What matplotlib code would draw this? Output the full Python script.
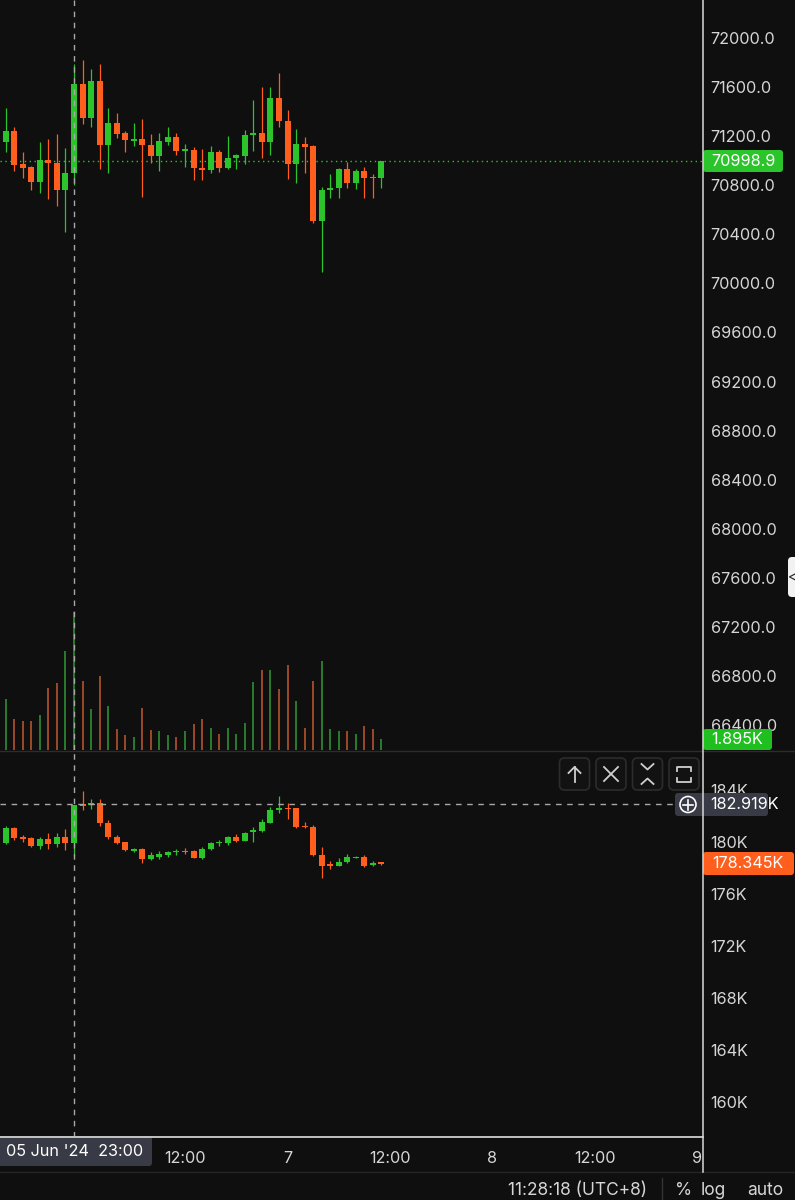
import matplotlib
matplotlib.use('Agg')
import matplotlib.pyplot as plt
from matplotlib.patches import FancyBboxPatch, Circle
import numpy as np

plt.rcParams['font.family'] = ['Inter', 'DejaVu Sans']

# ---------------- data ----------------
# hours since 05 Jun 2024 00:00 (14:00 Jun 5 ... 11:00 Jun 7)
hours = list(range(14, 60))

price_open = [71087, 71149, 71242, 70970, 70946, 70829, 71005, 70984, 70761, 70897,
              71622, 71345, 71652, 71128, 71310, 71223, 71163, 71177, 71128, 71041,
              71155, 71190, 71081, 71087, 70943, 70924, 71073, 70937, 71019, 71038,
              71209, 71223, 71149, 71508, 71323, 70970, 71133, 71120, 70511, 70761,
              70774, 70932, 70821, 70918, 70870, 70861]
price_high = [71200, 71427, 71272, 71073, 70957, 71149, 71174, 71217, 71100, 71788,
              71820, 71747, 71788, 71427, 71386, 71242, 71310, 71337, 71217, 71223,
              71272, 71223, 71136, 71114, 71092, 71122, 71087, 71201, 71054, 71250,
              71494, 71598, 71598, 71712, 71413, 71258, 71196, 71128, 70783, 70891,
              70940, 70986, 70932, 70946, 70891, 70999]
price_low = [71060, 71073, 70918, 70856, 70761, 70734, 70685, 70630, 70421, 70802,
             71299, 71272, 70932, 70897, 71182, 71073, 71120, 70707, 70978, 70918,
             71128, 71046, 70946, 70842, 70842, 70897, 70910, 70932, 70932, 70973,
             71081, 71019, 71046, 71277, 70848, 70821, 70897, 70489, 70095, 70693,
             70693, 70774, 70766, 70698, 70693, 70774]
price_close = [71168, 71242, 70965, 70937, 70829, 71005, 70978, 70761, 70902, 71622,
               71345, 71652, 71128, 71310, 71217, 71168, 71177, 71128, 71041, 71160,
               71190, 71079, 71092, 70937, 70924, 71073, 70937, 71019, 71046, 71209,
               71223, 71149, 71508, 71323, 70970, 71133, 71109, 70511, 70761, 70780,
               70932, 70821, 70918, 70861, 70861, 70998.9]

volume_k = [5.0, 9.06, 5.40, 5.22, 5.10, 6.11, 11.0, 11.8, 17.6, 24.5,
            12.2, 7.29, 13.1, 7.75, 3.63, 2.74, 2.34, 7.47, 3.50, 3.45,
            2.57, 2.34, 3.33, 4.69, 5.40, 3.93, 2.92, 3.93, 2.87, 4.81,
            12.1, 14.1, 14.2, 10.8, 15.0, 8.64, 3.81, 12.2, 15.8, 3.63,
            3.45, 3.45, 2.92, 4.21, 3.63, 1.895]

ind_open = [179.5, 179.95, 181.05, 180.36, 180.28, 179.72, 180.23, 179.85, 180.41, 179.95,
            182.90, 182.85, 183.03, 181.44, 180.36, 179.97, 179.33, 179.44, 178.67, 178.87,
            179.00, 179.21, 179.33, 179.31, 178.79, 179.46, 179.90, 179.90, 180.41, 180.10,
            180.79, 180.87, 181.49, 182.46, 182.64, 182.59, 181.26, 181.18, 179.00, 178.28,
            178.18, 178.49, 178.79, 178.87, 178.23, 178.40]
ind_high = [180.1, 181.23, 181.13, 180.54, 180.36, 180.36, 180.72, 180.72, 180.97, 182.87,
            183.95, 183.31, 183.28, 181.69, 180.54, 180.03, 179.56, 179.56, 179.21, 179.31,
            179.31, 179.44, 179.51, 179.38, 179.64, 180.03, 180.15, 180.49, 180.62, 180.79,
            181.18, 181.74, 182.72, 183.56, 183.03, 182.64, 181.51, 181.31, 179.64, 178.54,
            178.79, 179.08, 178.95, 179.00, 178.54, 178.41]
ind_low = [179.3, 179.85, 180.15, 180.03, 179.59, 179.44, 179.46, 179.59, 179.38, 178.92,
           182.46, 182.51, 181.26, 180.21, 179.82, 179.31, 179.21, 178.36, 178.62, 178.67,
           178.87, 179.00, 179.08, 178.74, 178.69, 179.38, 179.72, 179.77, 179.97, 180.08,
           179.97, 180.79, 181.44, 182.20, 181.74, 181.05, 181.05, 178.92, 177.21, 177.92,
           178.15, 178.41, 178.74, 178.10, 178.15, 178.23]
ind_close = [180.0, 181.05, 180.28, 180.23, 179.72, 180.23, 179.85, 180.41, 179.95, 182.85,
             182.80, 183.03, 181.44, 180.36, 179.95, 179.38, 179.44, 178.67, 179.00, 179.05,
             179.21, 179.33, 179.23, 178.79, 179.46, 179.90, 179.97, 180.36, 180.10, 180.72,
             180.92, 181.56, 182.46, 182.64, 182.51, 181.18, 181.13, 179.00, 178.15, 178.15,
             178.49, 178.87, 178.87, 178.18, 178.41, 178.345]

price_ticks = [72000, 71600, 71200, 70800, 70400, 70000, 69600, 69200, 68800,
               68400, 68000, 67600, 67200, 66800, 66400]
ind_ticks = [184, 180, 176, 172, 168, 164, 160]
time_ticks = [36, 48, 60, 72, 84, 96]
time_labels = ['12:00', '7', '12:00', '8', '12:00', '9']

last_price = 70998.9
last_volume = '1.895K'
last_ind = 178.345
cross_hour = 23
cross_ind = 182.919

# ---------------- style ----------------
BG = '#0f0f0f'
GREEN = '#2bc52b'
ORANGE = '#ff5e1c'
VGREEN = '#2e8f33'
VORANGE = '#b4542d'
TXT = '#d6d6d6'
BOX = '#383b45'

W, H, DPI = 795, 1200, 100
fig = plt.figure(figsize=(W / DPI, H / DPI), dpi=DPI, facecolor=BG)

def rect(x0, y0, x1, y1):
    return [x0 / W, 1 - y1 / H, (x1 - x0) / W, (y1 - y0) / H]

XL = (14.335, 96.65)

ax_vol = fig.add_axes(rect(0, 0, 703, 750), zorder=1)
ax_p = fig.add_axes(rect(0, 0, 703, 750), zorder=2)
ax_l = fig.add_axes(rect(0, 750, 703, 1137), zorder=2)

for a in (ax_vol, ax_p, ax_l):
    a.set_xlim(*XL)
    for s in a.spines.values():
        s.set_visible(False)
ax_vol.set_facecolor(BG)
ax_p.patch.set_visible(False)
ax_l.set_facecolor(BG)

ax_p.set_ylim(66196.2, 72309.8)
ax_vol.set_ylim(0, 132.74)
ax_l.set_ylim(157.308, 187.077)


def candles(ax, x, o, h, l, c, minh):
    x = np.asarray(x, float)
    o, h, l, c = (np.asarray(v, float) for v in (o, h, l, c))
    up = c >= o
    cols = np.where(up, GREEN, ORANGE)
    ax.vlines(x, l, h, colors=cols, lw=0.9, zorder=3)
    bottom = np.minimum(o, c)
    height = np.maximum(np.abs(c - o), minh)
    ax.bar(x, height, 0.7, bottom=bottom, color=cols, linewidth=0, zorder=4)
    return up


up = candles(ax_p, hours, price_open, price_high, price_low, price_close, 9)
vcols = np.where(up, VGREEN, VORANGE)
ax_vol.vlines(hours, 0, volume_k, colors=vcols, lw=1.2)
candles(ax_l, hours, ind_open, ind_high, ind_low, ind_close, 0.08)

# last price dotted line
ax_p.axhline(last_price, color=GREEN, lw=1, ls=(0, (1, 2.5)), zorder=2)
# crosshair
for a in (ax_p, ax_l):
    a.axvline(cross_hour, color='#a8a8a8', lw=1, ls=(0, (4, 4)), zorder=5)
ax_l.plot([XL[0], XL[0] + (675 / 703) * (XL[1] - XL[0])], [cross_ind, cross_ind],
          color='#a8a8a8', lw=1, ls=(0, (4, 4)), zorder=5)

# ticks
ax_vol.set_xticks([]); ax_vol.set_yticks([])
ax_p.set_xticks([])
ax_p.yaxis.tick_right()
ax_p.set_yticks(price_ticks, [f'{v:.1f}' for v in price_ticks])
ax_p.tick_params(axis='y', length=0, pad=5.5, labelcolor=TXT, labelsize=11.7)
ax_l.yaxis.tick_right()
ax_l.set_yticks(ind_ticks, [f'{v}K' for v in ind_ticks])
ax_l.tick_params(axis='y', length=0, pad=5.5, labelcolor=TXT, labelsize=11.7)
ax_l.set_xticks(time_ticks, time_labels)
ax_l.tick_params(axis='x', length=0, pad=10, labelcolor=TXT, labelsize=11.7)

# ---------------- overlay (pixel coordinates) ----------------
ov = fig.add_axes([0, 0, 1, 1], zorder=10)
ov.set_xlim(0, W); ov.set_ylim(H, 0)
ov.axis('off'); ov.patch.set_visible(False)


def rbox(x0, y0, x1, y1, fc, ec='none', r=3, lw=1):
    p = FancyBboxPatch((x0, y0), x1 - x0, y1 - y0,
                       boxstyle=f'round,pad=0,rounding_size={r}',
                       fc=fc, ec=ec, lw=lw)
    ov.add_patch(p)


# separators
ov.plot([0, W], [750.5, 750.5], color='#2c2c2c', lw=1)
ov.plot([0, W], [1172, 1172], color='#262626', lw=1)
ov.plot([0, 703], [1137, 1137], color='#cfcfcf', lw=1.3)
ov.plot([703, 703], [0, 1172], color='#d8d8d8', lw=1.1)

# value labels
rbox(703, 150, 783, 172, GREEN)
ov.text(743, 161.5, f'{last_price:.1f}', color='white', fontsize=11.7, ha='center', va='center')
rbox(703, 729, 772, 750, '#1fbf1f')
ov.text(737.5, 739.5, last_volume, color='white', fontsize=11.7, ha='center', va='center')
rbox(703, 852, 794, 875, ORANGE)
ov.text(748, 863.5, f'{last_ind:.3f}K', color='white', fontsize=11.7, ha='center', va='center')

# crosshair value label with plus button
rbox(675, 793, 768, 816, BOX)
ov.add_patch(Circle((688, 804.5), 8, fc='none', ec='white', lw=1.2))
ov.plot([683, 693], [804.5, 804.5], color='white', lw=1.2)
ov.plot([688, 688], [799.5, 809.5], color='white', lw=1.2)
ov.text(710, 804.5, f'{cross_ind:.3f}K', color='white', fontsize=11.7, ha='left', va='center')

# crosshair time label
rbox(-5, 1136, 152, 1166, BOX)
ov.text(75, 1151, "05 Jun '24  23:00", color='white', fontsize=11.7, ha='center', va='center')

# pane buttons
IC = '#cfcfcf'
for cx in (574.5, 611, 647.5, 684):
    rbox(cx - 15, 758, cx + 15, 790, '#121212', ec='#2c2c2c', r=5, lw=1.2)
ov.plot([574.5, 574.5], [767, 782], color=IC, lw=1.3)
ov.plot([568.5, 574.5, 580.5], [773, 767, 773], color=IC, lw=1.3)
ov.plot([604, 618], [767, 781], color=IC, lw=1.3)
ov.plot([604, 618], [781, 767], color=IC, lw=1.3)
ov.plot([641.5, 647.5, 653.5], [764, 769.5, 764], color=IC, lw=1.3)
ov.plot([641.5, 647.5, 653.5], [784, 778.5, 784], color=IC, lw=1.3)
ov.plot([677, 677, 691, 691], [770.5, 766.5, 766.5, 770.5], color=IC, lw=1.3)
ov.plot([677, 677, 691, 691], [777.5, 781.5, 781.5, 777.5], color=IC, lw=1.3)

# right side tab
rbox(788, 557, 805, 597, '#f2f2f2', r=4)
ov.text(792, 577, '<', color='#222222', fontsize=10, ha='center', va='center')

# bottom status row
ov.text(647, 1182, '11:28:18 (UTC+8)', color=TXT, fontsize=12.5, ha='right', va='top')
ov.plot([662, 662], [1178, 1200], color='#333333', lw=1)
ov.text(684, 1182, '%', color=TXT, fontsize=12.5, ha='center', va='top')
ov.text(713, 1182, 'log', color=TXT, fontsize=12.5, ha='center', va='top')
ov.text(765, 1182, 'auto', color=TXT, fontsize=12.5, ha='center', va='top')

fig.savefig('out.png', dpi=DPI, facecolor=BG)
